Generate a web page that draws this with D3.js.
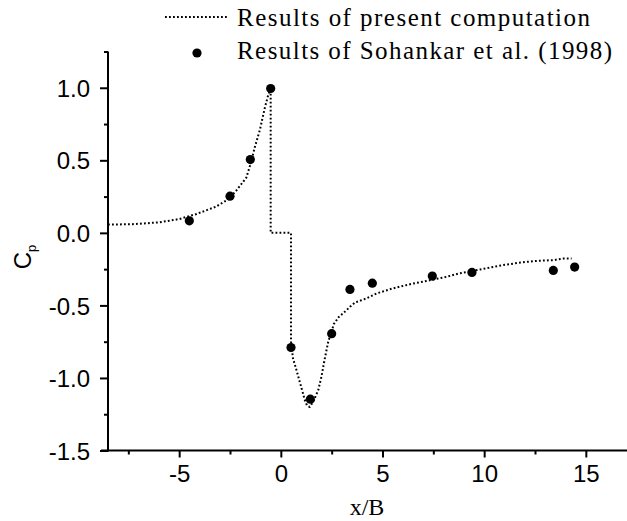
<!DOCTYPE html>
<html>
<head>
<meta charset="utf-8">
<script src="https://cdn.jsdelivr.net/npm/d3@7"></script>
<style>
  html, body { margin: 0; padding: 0; background: #fff; }
  svg { display: block; }
  .tick-label { font-family: "Liberation Sans", Arial, sans-serif; font-size: 24px; fill: #000; }
  .serif { font-family: "Liberation Serif", "Times New Roman", serif; fill: #000; }
</style>
</head>
<body>
<svg id="chart" width="627" height="521"></svg>
<script>
// ---- data ----
const curveX = [-8.5, -7.3, -6.0, -5.0, -4.15, -3.2, -2.6, -2.2, -1.7, -1.5, -1.28, -1.03, -0.79, -0.62, -0.5,
  -0.5, 0.5, 0.5, 0.6, 0.77, 0.93, 1.07, 1.18, 1.29, 1.42, 1.59, 1.84, 2.0, 2.13, 2.33, 2.5, 2.6, 2.85, 3.1,
  3.4, 3.65, 4.2, 4.7, 5.5, 6.35, 7.0, 8.15, 8.75, 9.8, 10.9, 11.8, 12.6, 13.4, 13.9, 14.3];
const curveY = [0.057, 0.06, 0.072, 0.095, 0.13, 0.18, 0.23, 0.29, 0.38, 0.47, 0.59, 0.71, 0.86, 0.95, 1.0,
  0.0, 0.0, -0.75, -0.866, -0.946, -1.027, -1.096, -1.153, -1.19, -1.2, -1.165, -1.084, -0.99, -0.89, -0.75, -0.68, -0.63, -0.58, -0.55,
  -0.51, -0.48, -0.452, -0.418, -0.383, -0.354, -0.336, -0.303, -0.28, -0.252, -0.223, -0.204, -0.193, -0.188, -0.177, -0.177];
const refX = [-4.5, -2.5, -1.5, -0.5, 0.5, 1.45, 2.5, 3.4, 4.5, 7.45, 9.4, 13.4, 14.45];
const refY = [0.083, 0.253, 0.505, 0.995, -0.79, -1.146, -0.695, -0.39, -0.347, -0.298, -0.273, -0.259, -0.236];
const xMajor = [-5, 0, 5, 10, 15];
const xMinor = [-7.5, -2.5, 2.5, 7.5, 12.5];
const yMajor = [-1.5, -1.0, -0.5, 0.0, 0.5, 1.0];
const yMinor = [-1.25, -0.75, -0.25, 0.25, 0.75, 1.25];
const legendLabels = ["Results of present computation", "Results of Sohankar et al. (1998)"];
const xTitle = "x/B";

// ---- scales ----
const svg = d3.select("#chart");
const x = d3.scaleLinear().domain([-8.5, 17]).range([108, 626.5]);
const y = d3.scaleLinear().domain([-1.5, 1.25]).range([450.5, 51.5]);
const hyphen = f => d => f(d).replace("\u2212", "-");

// ---- axes ----
const gx = svg.append("g").attr("transform", `translate(0,${y(-1.5)})`);
gx.call(d3.axisBottom(x).tickValues(xMinor).tickSize(4).tickFormat(""));
gx.call(g => g.append("g").call(d3.axisBottom(x).tickValues(xMajor).tickSize(7).tickFormat(hyphen(d3.format("d")))));
gx.selectAll(".domain").remove();
gx.append("line").attr("x1", 101).attr("x2", 627).attr("y1", 0).attr("y2", 0).attr("stroke", "#000").attr("stroke-width", 2);

const gy = svg.append("g").attr("transform", `translate(${x(-8.5)},0)`);
gy.call(d3.axisLeft(y).tickValues(yMinor).tickSize(4).tickFormat(""));
gy.call(g => g.append("g").call(d3.axisLeft(y).tickValues(yMajor).tickSize(8).tickPadding(10).tickFormat(hyphen(d3.format(".1f")))));
gy.selectAll(".domain").remove();
gy.append("line").attr("x1", 0).attr("x2", 0).attr("y1", y(1.25)).attr("y2", y(-1.5) + 1).attr("stroke", "#000").attr("stroke-width", 2);

svg.selectAll(".tick line").attr("stroke", "#000").attr("stroke-width", 2);
svg.selectAll(".tick text").attr("class", "tick-label").attr("font-family", null).attr("font-size", null);
gx.selectAll(".tick text").attr("dy", "0.9em");
gy.selectAll(".tick text").attr("dy", "0.36em");

// axis titles
svg.append("text").attr("class", "serif").attr("x", 367).attr("y", 515)
  .attr("text-anchor", "middle").attr("font-size", 24).text(xTitle);
const cp = svg.append("text").attr("class", "tick-label")
  .attr("transform", "translate(31,257) rotate(-90)").attr("text-anchor", "middle");
cp.append("tspan").attr("font-size", 24).text("C");
cp.append("tspan").attr("font-size", 13).attr("dy", 5).text("p");

// ---- curve ----
const pts = curveX.map((v, i) => [v, curveY[i]]);
svg.append("path").datum(pts)
  .attr("d", d3.line().x(d => x(d[0])).y(d => y(d[1])))
  .attr("fill", "none").attr("stroke", "#000").attr("stroke-width", 2)
  .attr("stroke-dasharray", "1.8,2.2");

// ---- reference points ----
svg.append("g").selectAll("circle").data(refX.map((v, i) => [v, refY[i]])).join("circle")
  .attr("cx", d => x(d[0])).attr("cy", d => y(d[1])).attr("r", 4.6).attr("fill", "#000");

// ---- legend ----
const lg = svg.append("g");
lg.append("line").attr("x1", 165).attr("x2", 229).attr("y1", 17).attr("y2", 17)
  .attr("stroke", "#000").attr("stroke-width", 2).attr("stroke-dasharray", "1.8,2.2");
lg.append("circle").attr("cx", 197).attr("cy", 53).attr("r", 4.6).attr("fill", "#000");
lg.append("text").attr("class", "serif").attr("x", 237).attr("y", 26).attr("font-size", 25)
  .attr("textLength", 353).attr("lengthAdjust", "spacing").text(legendLabels[0]);
lg.append("text").attr("class", "serif").attr("x", 237).attr("y", 59).attr("font-size", 25)
  .attr("textLength", 375).attr("lengthAdjust", "spacing").text(legendLabels[1]);
</script>
</body>
</html>
